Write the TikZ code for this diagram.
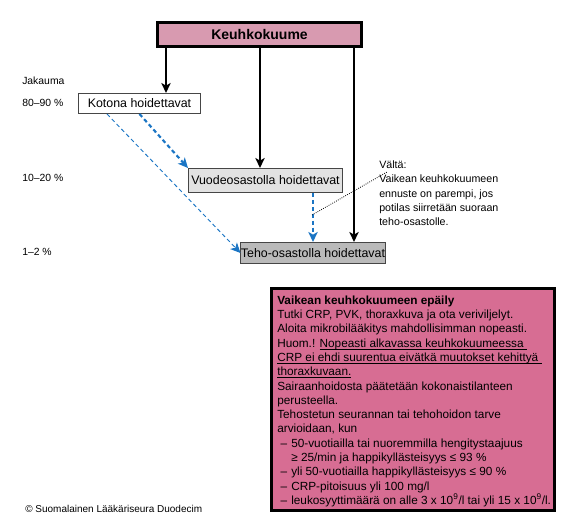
\documentclass[tikz,border=0pt]{standalone}
\usepackage{fontspec}
\setmainfont{Liberation Sans}
\usetikzlibrary{arrows.meta,positioning}
\definecolor{kkpink}{RGB}{216,154,176}
\definecolor{vaikeapink}{RGB}{215,109,147}
\definecolor{vuodegray}{RGB}{226,226,226}
\definecolor{tehogray}{RGB}{186,186,186}
\definecolor{boxedge}{RGB}{70,70,70}
\definecolor{ohjausblue}{RGB}{27,117,196}
\newcommand\alleviiva[1]{\underline{\smash{#1}}}
\begin{document}
\begin{tikzpicture}[x=0.75pt,y=-0.75pt,
  hoito/.style={draw=boxedge,line width=0.75pt,inner sep=0pt,font=\fontsize{9.3}{11}\selectfont},
  lbl/.style={anchor=west,inner sep=0pt,font=\fontsize{7.8}{9}\selectfont},
  musta/.style={line width=1.4pt,-{Stealth[length=7.5pt,width=7pt,inset=2pt]}},
  sininen/.style={ohjausblue,dash pattern=on 3pt off 2.2pt,-{Stealth[length=7.5pt,width=7pt,inset=2pt]}}]
\useasboundingbox (0,0) rectangle (585,528);
\node[draw,line width=2.25pt,fill=kkpink,minimum width=153pt,minimum height=18pt,inner sep=0pt,
  font=\bfseries\fontsize{10.5}{12}\selectfont] (kk) at (259.5,34.5) {Keuhkokuume};%見出し
\node[hoito,fill=white,minimum width=91.5pt,minimum height=15pt] (koti) at (139.5,103.5) {Kotona hoidettavat};
\node[hoito,fill=vuodegray,minimum width=115.5pt,minimum height=18pt] (vuode) at (265.5,180.5) {Vuodeosastolla hoidettavat};
\node[hoito,fill=tehogray,minimum width=105.75pt,minimum height=15.75pt] (teho) at (313,253) {Teho-osastolla hoidettavat};
\foreach \y / \txt [count=\i] in {81/Jakauma, 103/80–90 \%, 178/10–20 \%, 252/1–2 \%}
  \node[lbl] (jak\i) at (22,\y) {\txt};%左の割合
\coordinate (a1) at (166,0);
\coordinate (a2) at (260,0);
\coordinate (a3) at (354,0);
\draw[musta] (kk.south -| a1) -- (a1 |- koti.north);
\draw[musta] (kk.south -| a2) -- (a2 |- vuode.north);
\draw[musta] (kk.south -| a3) -- (a3 |- teho.north);
\coordinate (b1) at (107,0);
\draw[sininen,line width=1.6pt] (koti.south) -- (vuode.north west);
\draw[sininen,line width=0.7pt] (koti.south -| b1) -- (teho.west);
\draw[sininen,line width=1.6pt] (vuode.south -| teho.north) -- (teho.north);
\node[anchor=north west,inner sep=0pt,align=left,font=\fontsize{8}{10.7}\selectfont] (valta) at (379,160.5)
  {Vältä:\\Vaikean keuhkokuumeen\\ennuste on parempi, jos\\potilas siirretään suoraan\\teho-osastolle.};
\coordinate (d1) at (312,215);
\coordinate (d2) at (387,172);
\draw[line width=0.6pt,dash pattern=on 0.6pt off 1pt] (d1) -- (d2);%注記への点線
\node[draw,line width=2.25pt,fill=vaikeapink,minimum width=212.25pt,minimum height=166.5pt,inner sep=0pt] (vaikea) at (413,399.5) {};
\node[anchor=north west,inner sep=0pt,align=left,font=\fontsize{8.85}{10.72}\selectfont] (vaikeatxt) at (277,295.5)
  {\textbf{Vaikean keuhkokuumeen epäily}\\
   Tutki CRP, PVK, thoraxkuva ja ota veriviljelyt.\\
   Aloita mikrobilääkitys mahdollisimman nopeasti.\\
   Huom.! \alleviiva{Nopeasti alkavassa keuhkokuumeessa\ }\\
   \alleviiva{CRP ei ehdi suurentua eivätkä muutokset kehittyä\ }\\
   \alleviiva{thoraxkuvaan.}\\
   Sairaanhoidosta päätetään kokonaistilanteen\\
   perusteella.\\
   Tehostetun seurannan tai tehohoidon tarve\\
   arvioidaan, kun\\
   \hspace*{2.5pt}\makebox[8pt][l]{–}50-vuotiailla tai nuoremmilla hengitystaajuus\\
   \hspace*{10.5pt}≥ 25/min ja happikyllästeisyys ≤ 93 \%\\
   \hspace*{2.5pt}\makebox[8pt][l]{–}yli 50-vuotiailla happikyllästeisyys ≤ 90 \%\\
   \hspace*{2.5pt}\makebox[8pt][l]{–}CRP-pitoisuus yli 100 mg/l\\
   \hspace*{2.5pt}\makebox[8pt][l]{–}leukosyyttimäärä on alle 3 x 10\textsuperscript{9}/l tai yli 15 x 10\textsuperscript{9}/l.};
\node[lbl,font=\fontsize{7.5}{9}\selectfont] (tekija) at (25,509) {© Suomalainen Lääkäriseura Duodecim};
\end{tikzpicture}
\end{document}
